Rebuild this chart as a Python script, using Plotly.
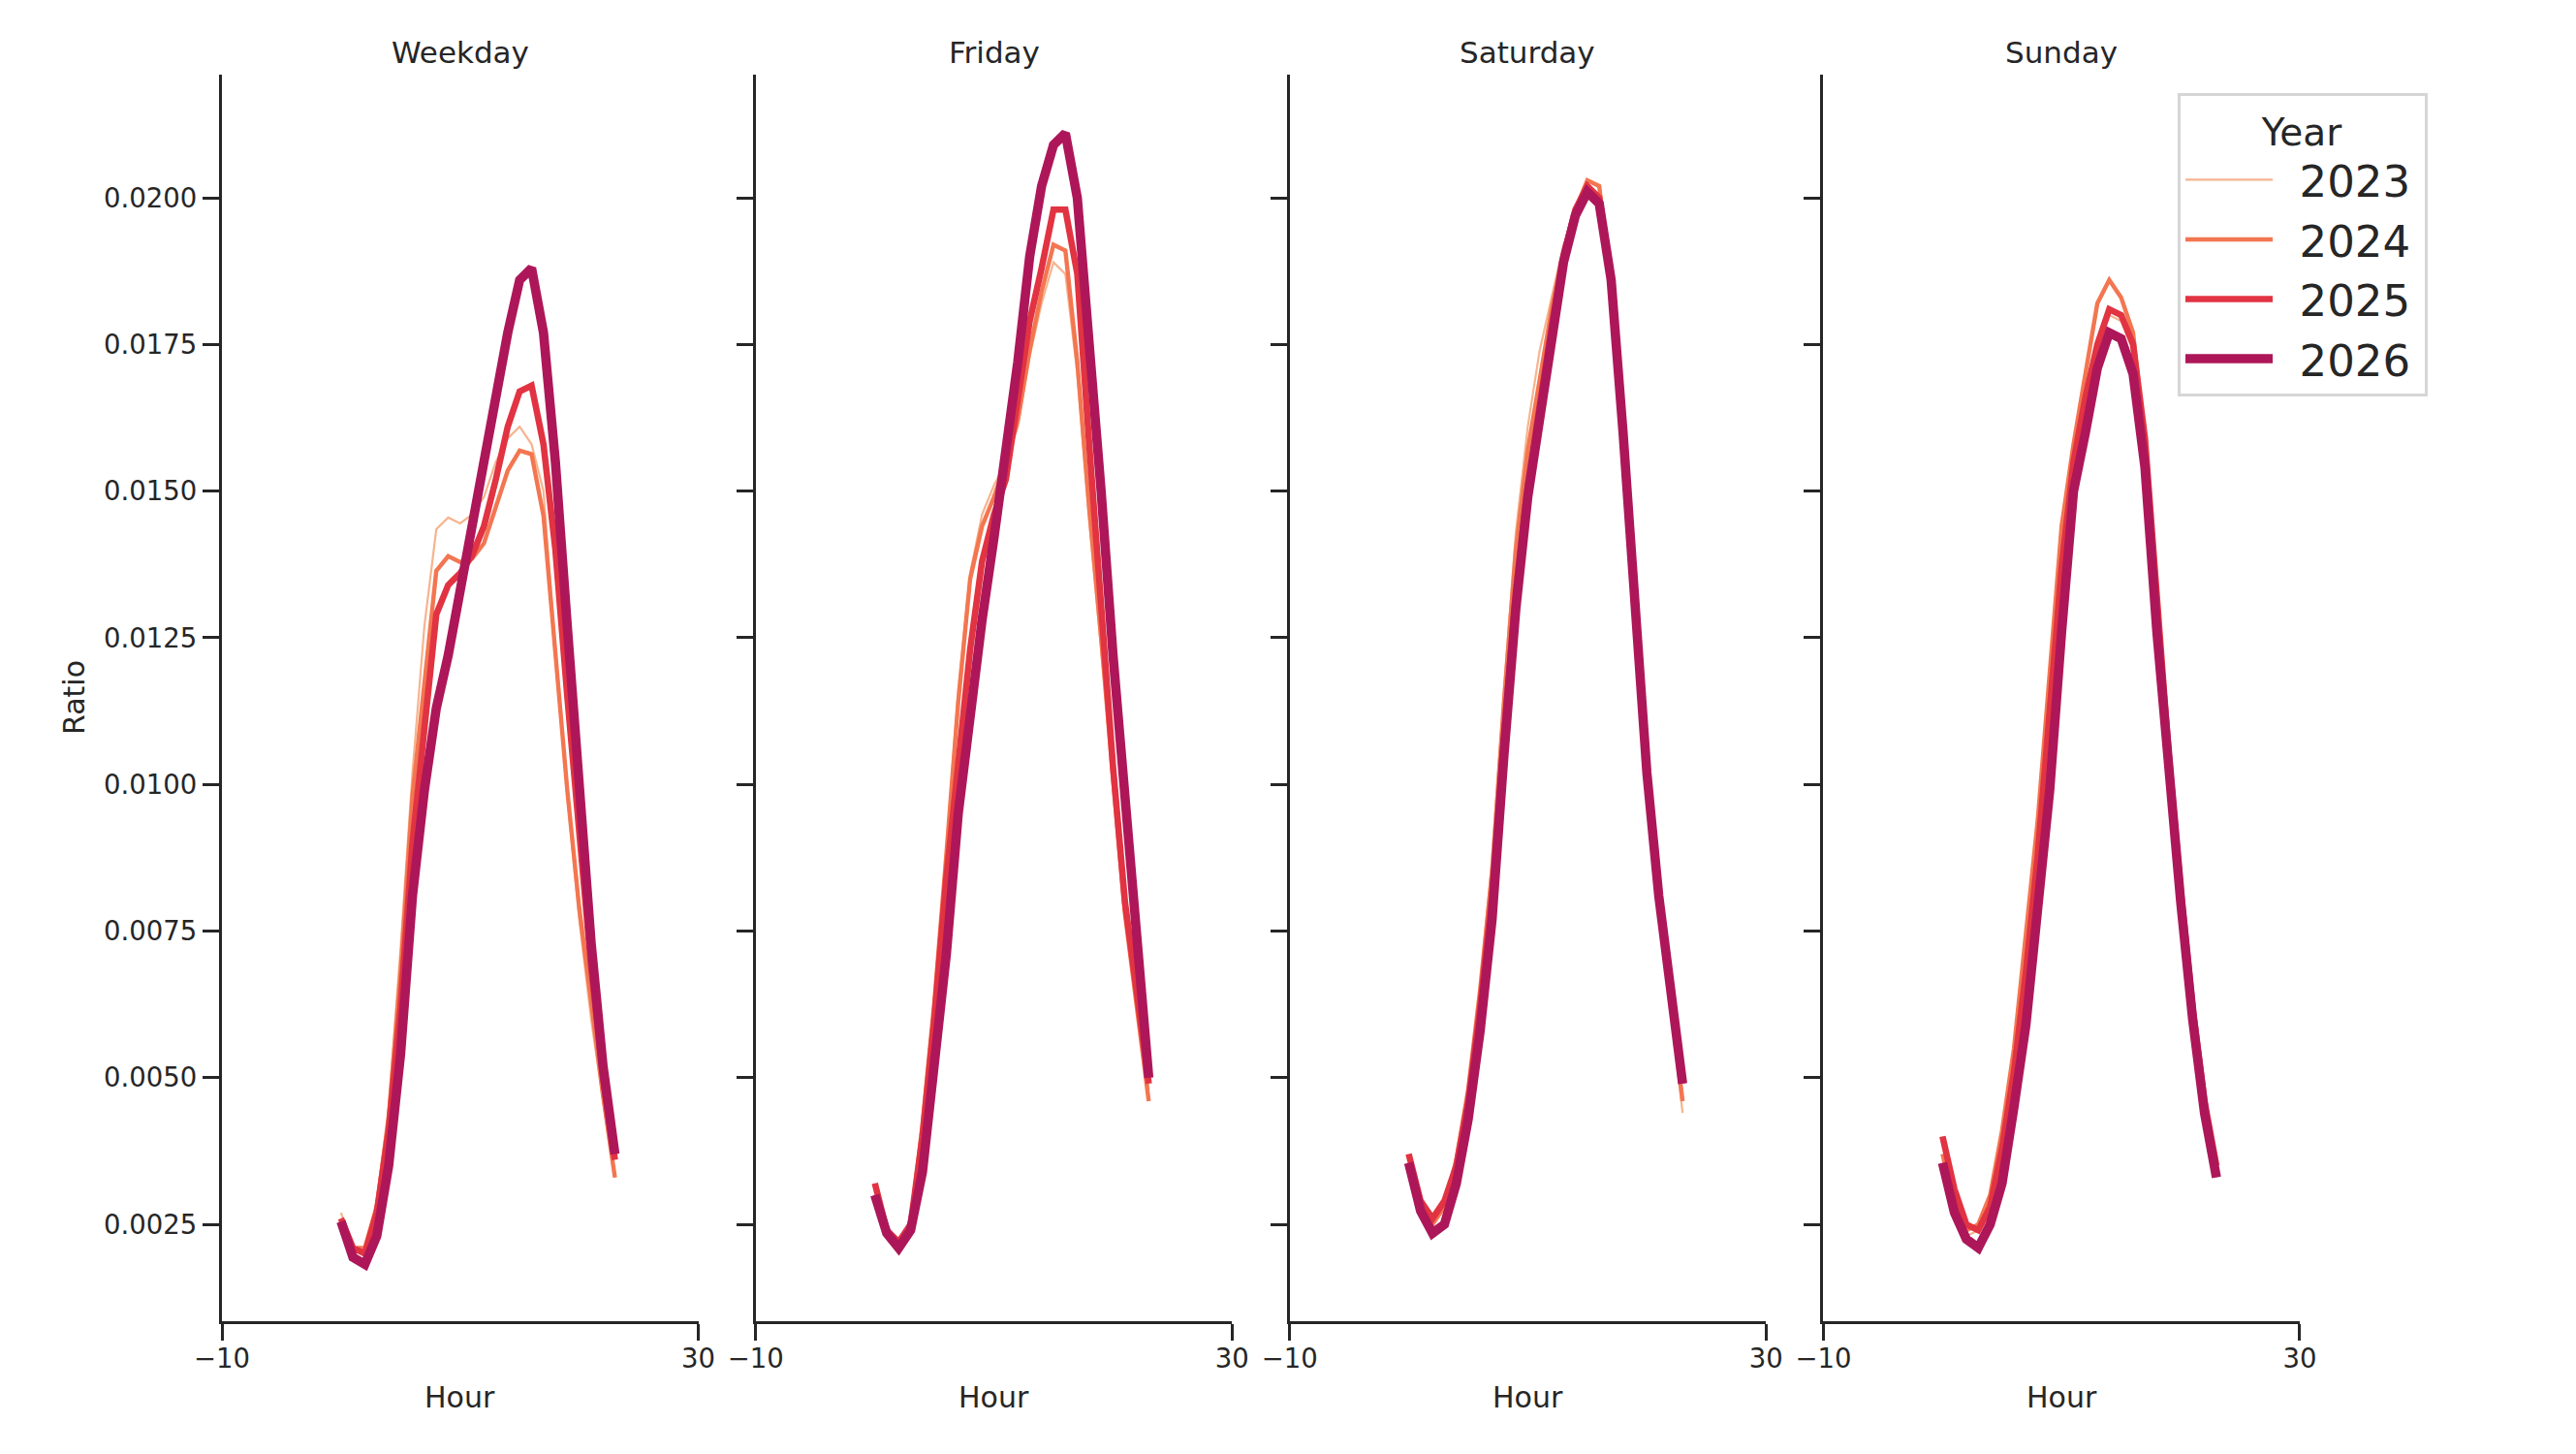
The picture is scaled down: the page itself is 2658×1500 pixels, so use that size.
import plotly.graph_objects as go
from plotly.subplots import make_subplots

hours = list(range(24))
days = ["Weekday", "Friday", "Saturday", "Sunday"]
years = ["2023", "2024", "2025", "2026"]

weekday_2023 = [0.0027, 0.0021, 0.0021, 0.0029, 0.0045, 0.0072, 0.0102, 0.0127, 0.01435, 0.01455, 0.01445, 0.0146,
                0.0149, 0.0155, 0.0159, 0.0161, 0.0158, 0.0150, 0.0123, 0.0098, 0.0077, 0.0060, 0.0046, 0.0033]
weekday_2024 = [0.0026, 0.0021, 0.0021, 0.0028, 0.0043, 0.0068, 0.0098, 0.0118, 0.01364, 0.01389, 0.01379, 0.01385,
                0.01411, 0.01473, 0.01535, 0.01569, 0.01563, 0.01458, 0.0122, 0.0099, 0.0079, 0.0063, 0.0047, 0.0033]
weekday_2025 = [0.0026, 0.0021, 0.0020, 0.0027, 0.0041, 0.0062, 0.0090, 0.0110, 0.0129, 0.0134, 0.0136, 0.0139,
                0.0144, 0.0152, 0.0161, 0.0167, 0.0168, 0.0158, 0.0140, 0.0115, 0.0091, 0.0069, 0.0050, 0.0036]
weekday_2026 = [0.00255, 0.00194, 0.00182, 0.0023, 0.0035, 0.0054, 0.0081, 0.0099, 0.0113, 0.0122, 0.0133, 0.0144,
                0.0156, 0.0167, 0.0177, 0.0186, 0.0188, 0.0177, 0.0155, 0.0127, 0.0099, 0.0073, 0.0052, 0.0037]

friday_2023 = [0.0030, 0.0024, 0.0022, 0.0025, 0.0042, 0.0064, 0.0089, 0.0116, 0.0136, 0.0146, 0.0151, 0.0155,
               0.0161, 0.0173, 0.0182, 0.0189, 0.0187, 0.0170, 0.0145, 0.0123, 0.0100, 0.0079, 0.0064, 0.0048]
friday_2024 = [0.0030, 0.0024, 0.0022, 0.0025, 0.0042, 0.0063, 0.0088, 0.0114, 0.0135, 0.0144, 0.0149, 0.0155,
               0.0162, 0.0174, 0.0184, 0.0192, 0.0191, 0.0172, 0.0147, 0.0125, 0.0101, 0.0078, 0.0062, 0.0046]
friday_2025 = [0.0032, 0.0024, 0.0022, 0.0025, 0.0040, 0.0060, 0.0084, 0.0103, 0.0123, 0.0138, 0.0146, 0.0152,
               0.0165, 0.0179, 0.0188, 0.0198, 0.0198, 0.0187, 0.0158, 0.0130, 0.0103, 0.0080, 0.0065, 0.0049]
friday_2026 = [0.0030, 0.00235, 0.0021, 0.0024, 0.0034, 0.0051, 0.0071, 0.0095, 0.0112, 0.0128, 0.0142, 0.0156,
               0.0172, 0.0190, 0.0202, 0.0209, 0.0211, 0.0200, 0.0177, 0.0150, 0.0122, 0.0096, 0.0074, 0.0050]

saturday_2023 = [0.0035, 0.0028, 0.0025, 0.0028, 0.0036, 0.0048, 0.0066, 0.0087, 0.0116, 0.0143, 0.0161, 0.0174,
                 0.0183, 0.0192, 0.0197, 0.0201, 0.0200, 0.0185, 0.0159, 0.0129, 0.0101, 0.0080, 0.0062, 0.0044]
saturday_2024 = [0.0035, 0.0028, 0.0025, 0.0028, 0.0036, 0.0048, 0.0065, 0.0085, 0.0114, 0.0140, 0.0157, 0.0169,
                 0.0181, 0.0191, 0.0198, 0.0203, 0.0202, 0.0185, 0.0159, 0.0129, 0.0101, 0.0080, 0.0063, 0.0046]
saturday_2025 = [0.0037, 0.0029, 0.0026, 0.0029, 0.0035, 0.0046, 0.0062, 0.0081, 0.0108, 0.0133, 0.0151, 0.0165,
                 0.0178, 0.0190, 0.0198, 0.0202, 0.0200, 0.0186, 0.0160, 0.0130, 0.0102, 0.0081, 0.0065, 0.0049]
saturday_2026 = [0.00355, 0.00273, 0.00235, 0.0025, 0.0032, 0.0043, 0.0058, 0.0077, 0.0105, 0.0130, 0.0149, 0.0163,
                 0.0177, 0.0189, 0.0197, 0.0201, 0.0199, 0.0186, 0.0160, 0.0130, 0.0102, 0.0081, 0.0065, 0.0049]

sunday_2023 = [0.0036, 0.0028, 0.0023, 0.0024, 0.0030, 0.0040, 0.0054, 0.0072, 0.0092, 0.0116, 0.0140, 0.0155,
               0.0166, 0.0176, 0.0180, 0.0179, 0.0174, 0.0156, 0.0128, 0.0102, 0.0080, 0.0060, 0.0045, 0.0034]
sunday_2024 = [0.0037, 0.0029, 0.0024, 0.0025, 0.0030, 0.0041, 0.0055, 0.0074, 0.0094, 0.0119, 0.0144, 0.0158,
               0.0170, 0.0182, 0.0186, 0.0183, 0.0177, 0.0158, 0.0129, 0.0103, 0.0081, 0.0061, 0.0045, 0.0034]
sunday_2025 = [0.0040, 0.0031, 0.0025, 0.0024, 0.0028, 0.0038, 0.0051, 0.0068, 0.0088, 0.0111, 0.0137, 0.0155,
               0.0166, 0.0175, 0.0181, 0.0180, 0.0175, 0.0159, 0.0131, 0.0105, 0.0082, 0.0062, 0.0046, 0.0035]
sunday_2026 = [0.00355, 0.0027, 0.00225, 0.0021, 0.0025, 0.0032, 0.0045, 0.0059, 0.0079, 0.0099, 0.0126, 0.0150,
               0.0160, 0.0171, 0.0177, 0.0176, 0.0170, 0.0154, 0.0126, 0.0102, 0.0080, 0.0060, 0.0044, 0.0033]

x_tick_vals = [-10, 30]
x_tick_text = ["\u221210", "30"]
y_tick_vals = [0.0025, 0.0050, 0.0075, 0.0100, 0.0125, 0.0150, 0.0175, 0.0200]

series = {
    "Weekday": [weekday_2023, weekday_2024, weekday_2025, weekday_2026],
    "Friday": [friday_2023, friday_2024, friday_2025, friday_2026],
    "Saturday": [saturday_2023, saturday_2024, saturday_2025, saturday_2026],
    "Sunday": [sunday_2023, sunday_2024, sunday_2025, sunday_2026],
}

colors = ["#f6b48f", "#f37651", "#e13342", "#ad1759"]
widths = [2.2, 4.4, 6.6, 9.6]
ink = "#262626"
font_family = "DejaVu Sans"

W, H = 2658, 1500
body_margin = 8  # default page margin of the html body
pw, ph = 2144, 1286
ml = 229 - body_margin
mt = 77 - body_margin
mr = W - ml - pw
mb = H - mt - ph
gap = 59.3 / pw

fig = make_subplots(rows=1, cols=4, horizontal_spacing=gap)

for c, day in enumerate(days):
    for i, yr in enumerate(years):
        fig.add_trace(
            go.Scatter(
                x=hours, y=series[day][i], mode="lines",
                name="\u2002" + yr + "\u2009",
                legendgroup=yr, showlegend=(c == 0),
                line=dict(color=colors[i], width=widths[i]),
            ),
            row=1, col=c + 1,
        )

axis_common = dict(
    showline=True, linecolor=ink, linewidth=3.3, ticks="outside",
    ticklen=17, tickwidth=3.3, tickcolor=ink, showgrid=False, zeroline=False,
    tickfont=dict(size=27.5, color=ink, family=font_family),
)

for c in range(4):
    fig.update_xaxes(range=[-10, 30], tickvals=x_tick_vals, ticktext=x_tick_text,
                     ticklabelstandoff=-5, **axis_common, row=1, col=c + 1)
    fig.update_yaxes(range=[0.00085, 0.0221], tickvals=y_tick_vals, tickformat=".4f",
                     showticklabels=(c == 0), **axis_common, row=1, col=c + 1)

annotations = []
for c, day in enumerate(days):
    xa = fig.layout["xaxis" + ("" if c == 0 else str(c + 1))]
    xc = (xa.domain[0] + xa.domain[1]) / 2
    annotations.append(dict(text=day, x=xc, y=1 + (77 - 54) / ph, xref="paper", yref="paper",
                            showarrow=False, xanchor="center", yanchor="middle",
                            font=dict(size=31, color=ink, family=font_family)))
    annotations.append(dict(text="Hour", x=xc, y=-(1441 - 1363) / ph, xref="paper", yref="paper",
                            showarrow=False, xanchor="center", yanchor="middle",
                            font=dict(size=30, color=ink, family=font_family)))
annotations.append(dict(text="Ratio", x=(76 - 229) / pw, y=0.5, xref="paper", yref="paper",
                        showarrow=False, xanchor="center", yanchor="middle", textangle=-90,
                        font=dict(size=30, color=ink, family=font_family)))

fig.update_layout(
    width=W, height=H,
    margin=dict(l=ml, r=mr, t=mt, b=mb, pad=0),
    paper_bgcolor="white", plot_bgcolor="white",
    font=dict(family=font_family, color=ink),
    annotations=annotations,
    legend=dict(
        x=(2247 - 229) / pw, y=1 - (96 - 77) / ph, xanchor="left", yanchor="top",
        bgcolor="white", bordercolor="#d6d6d6", borderwidth=3,
        font=dict(size=45, color=ink, family=font_family),
        title=dict(text="Year", side="top center", font=dict(size=39, color=ink, family=font_family)),
        itemwidth=90, tracegroupgap=0,
    ),
)

fig.write_html("out.html")
